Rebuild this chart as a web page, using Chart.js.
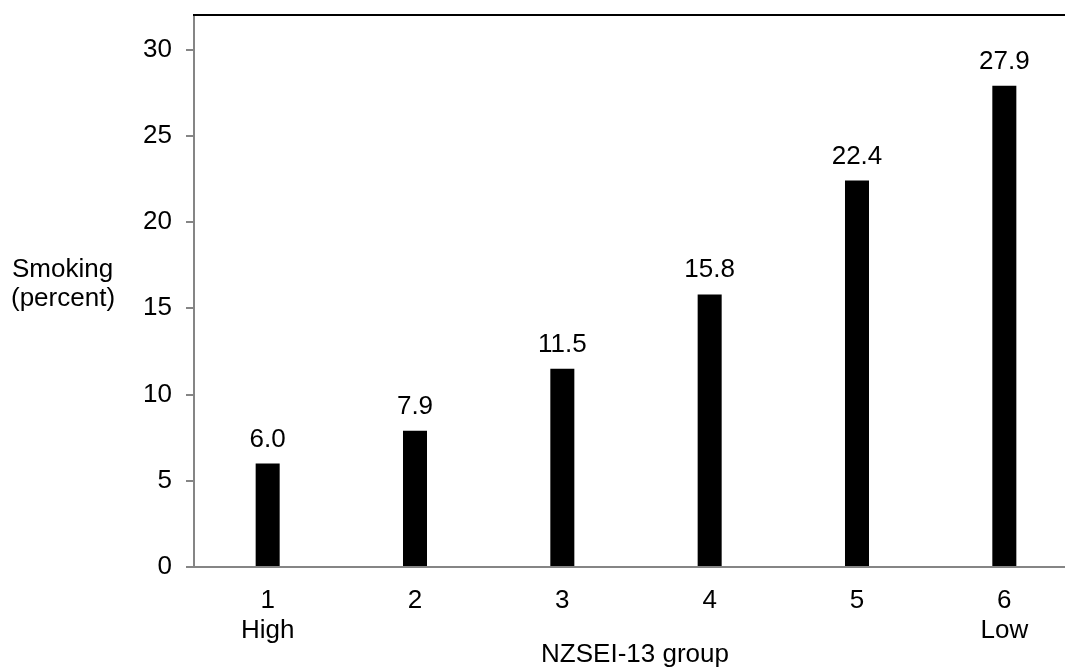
<!DOCTYPE html>
<html>
<head>
<meta charset="utf-8">
<script src="https://cdn.jsdelivr.net/npm/chart.js@4.4.1/dist/chart.umd.min.js"></script>
<style>
  html, body { margin: 0; padding: 0; background: #ffffff; overflow: hidden; }
  canvas { display: block; }
</style>
</head>
<body>
<canvas id="smokingChart" width="1080" height="667"></canvas>
<script>
const groups = ["1", "2", "3", "4", "5", "6"];
const groupNotes = ["High", "", "", "", "", "Low"];
const smoking = [6.0, 7.9, 11.5, 15.8, 22.4, 27.9];
const yTicks = [0, 5, 10, 15, 20, 25, 30];
const yTitle = ["Smoking", "(percent)"];
const xTitle = "NZSEI-13 group";

const axisGray = "#858585";
const fontFamily = "\"Liberation Sans\", Arial, sans-serif";

Chart.defaults.font.family = fontFamily;
Chart.defaults.font.size = 26;
Chart.defaults.color = "#000000";

const extras = {
  id: "extras",
  afterDraw(chart) {
    const ctx = chart.ctx;
    const area = chart.chartArea;
    ctx.save();

    // top frame line
    ctx.strokeStyle = "#000000";
    ctx.lineWidth = 2;
    ctx.beginPath();
    ctx.moveTo(area.left - 1, area.top);
    ctx.lineTo(chart.width, area.top);
    ctx.stroke();

    // value labels above bars
    ctx.font = "26px " + fontFamily;
    ctx.fillStyle = "#000000";
    ctx.textAlign = "center";
    ctx.textBaseline = "alphabetic";
    chart.getDatasetMeta(0).data.forEach((bar, i) => {
      ctx.fillText(smoking[i].toFixed(1), bar.x, bar.y - 17);
    });

    // y title, horizontal
    ctx.textAlign = "left";
    ctx.fillText(yTitle[0], 12, 277);
    ctx.fillText(yTitle[1], 11, 306);

    // x title, centred under the visible part of the plot
    ctx.textAlign = "center";
    ctx.fillText(xTitle, 635, 662);
    ctx.restore();
  }
};

new Chart(document.getElementById("smokingChart"), {
  type: "bar",
  data: {
    labels: groups.map((g, i) => [g, groupNotes[i]]),
    datasets: [{
      data: smoking,
      backgroundColor: "#000000",
      borderWidth: 0,
      categoryPercentage: 1,
      barPercentage: 0.163
    }]
  },
  options: {
    responsive: false,
    animation: false,
    layout: { padding: { top: 15, right: 2, left: 0, bottom: 0 } },
    plugins: {
      legend: { display: false },
      tooltip: { enabled: false }
    },
    scales: {
      x: {
        grid: { display: false },
        border: { display: true, color: axisGray, width: 2 },
        ticks: {
          color: "#000000",
          padding: 11,
          maxRotation: 0,
          font: { size: 26, lineHeight: 1.15 }
        },
        afterFit(scale) {
          scale.height = 100;
          scale.paddingLeft = 0;
          scale.paddingRight = 0;
        }
      },
      y: {
        min: 0,
        max: 32,
        border: { display: true, color: axisGray, width: 2 },
        grid: {
          drawOnChartArea: false,
          drawTicks: true,
          tickLength: 8,
          color: axisGray,
          lineWidth: 2
        },
        ticks: {
          color: "#000000",
          padding: 14,
          font: { size: 26 }
        },
        afterBuildTicks(scale) {
          scale.ticks = yTicks.map(v => ({ value: v }));
        },
        afterFit(scale) {
          scale.width = 194;
          scale.paddingTop = 0;
          scale.paddingBottom = 0;
        }
      }
    }
  },
  plugins: [extras]
});
</script>
</body>
</html>
